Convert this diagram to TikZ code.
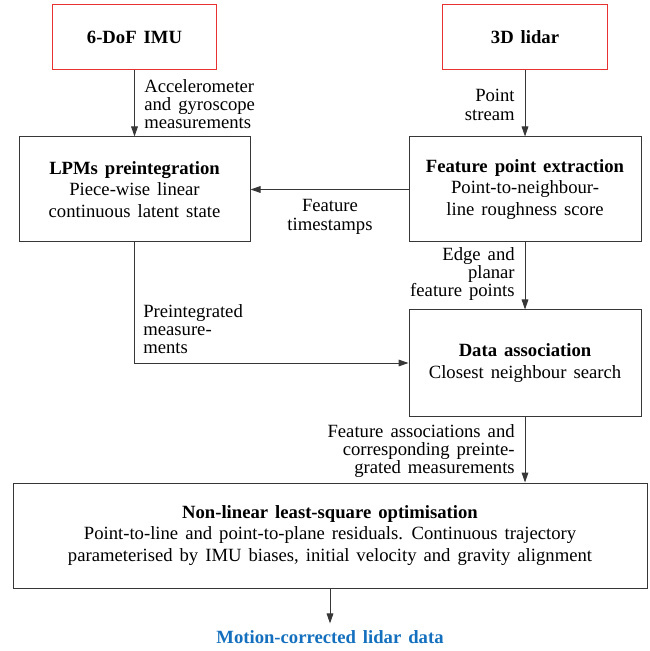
\documentclass[tikz,border=0pt]{standalone}
\usepackage{fontspec}
\setmainfont{Liberation Serif}[WordSpace=1.5]
\usetikzlibrary{arrows.meta}
\definecolor{outblue}{RGB}{20,112,190}
\definecolor{srcred}{RGB}{232,50,50}
\definecolor{linegray}{RGB}{55,55,55}
\begin{document}
\begin{tikzpicture}[x=0.6pt,y=-0.6pt,
  font=\fontsize{11.2}{11}\selectfont,
  box/.style={draw=linegray, line width=0.6pt, align=center, inner sep=0pt,
    font=\fontsize{11.2}{13}\selectfont},
  srcbox/.style={draw=srcred, line width=0.6pt, align=center, inner sep=0pt,
    minimum width=98.7pt, minimum height=39pt, font=\fontsize{11.2}{11}\selectfont\bfseries},
  conn/.style={-{Triangle[length=6pt,width=4pt]}, line width=0.6pt, draw=linegray},
  lblL/.style={inner sep=0pt, align=left, anchor=west},
  lblR/.style={inner sep=0pt, align=right, anchor=east},
  lblC/.style={inner sep=0pt, align=center}]
\useasboundingbox (0,0) rectangle (649,651);

\node[srcbox] (imu) at (134.5,37.5) {6-DoF IMU};
\node[srcbox] (lidar) at (525,37.5) {3D lidar};
\node[box, minimum width=138.6pt, minimum height=63pt] (lpm) at (134.5,189.5)
  {\textbf{LPMs preintegration}\\Piece-wise linear\\continuous latent state};
\node[box, minimum width=139.2pt, minimum height=63pt] (feat) at (525,189.5)
  {\textbf{Feature point extraction}\\Point-to-neighbour-\\line roughness score};
\node[box, minimum width=139.2pt, minimum height=63.6pt] (data) at (525,363)
  {\textbf{Data association}\\Closest neighbour search};
\node[box, minimum width=380.4pt, minimum height=63pt] (opt) at (330,535.5)
  {\textbf{Non-linear least-square optimisation}\\Point-to-line and point-to-plane residuals. Continuous trajectory\\parameterised by IMU biases, initial velocity and gravity alignment};
\node[inner sep=4pt, text=outblue, font=\fontsize{11.2}{11}\selectfont\bfseries] (out) at (330,637) {Motion-corrected lidar data};

\node[lblL] (accl) at (144,104) {Accelerometer\\and gyroscope\\measurements};
\node[lblR] (pts) at (515,105) {Point\\stream};
\node[lblC] (fts) at (330,217) {Feature\\timestamps};
\node[lblR] (efp) at (515,274) {Edge and\\planar\\feature points};
\node[lblL] (pim) at (143,329) {Preintegrated\\measure-\\ments};
\node[lblR] (fac) at (515,451) {Feature associations and\\corresponding preinte-\\grated measurements};

\draw[conn] (imu) -- (lpm);
\draw[conn] (lidar) -- (feat);
\draw[conn] (feat) -- (lpm);
\draw[conn] (feat) -- (data);
\draw[conn] (lpm.south) |- (data.west);
\draw[conn] (data.south) -- (data.south |- opt.north);
\draw[conn] (opt.south) -- (out.north);
\end{tikzpicture}
\end{document}
